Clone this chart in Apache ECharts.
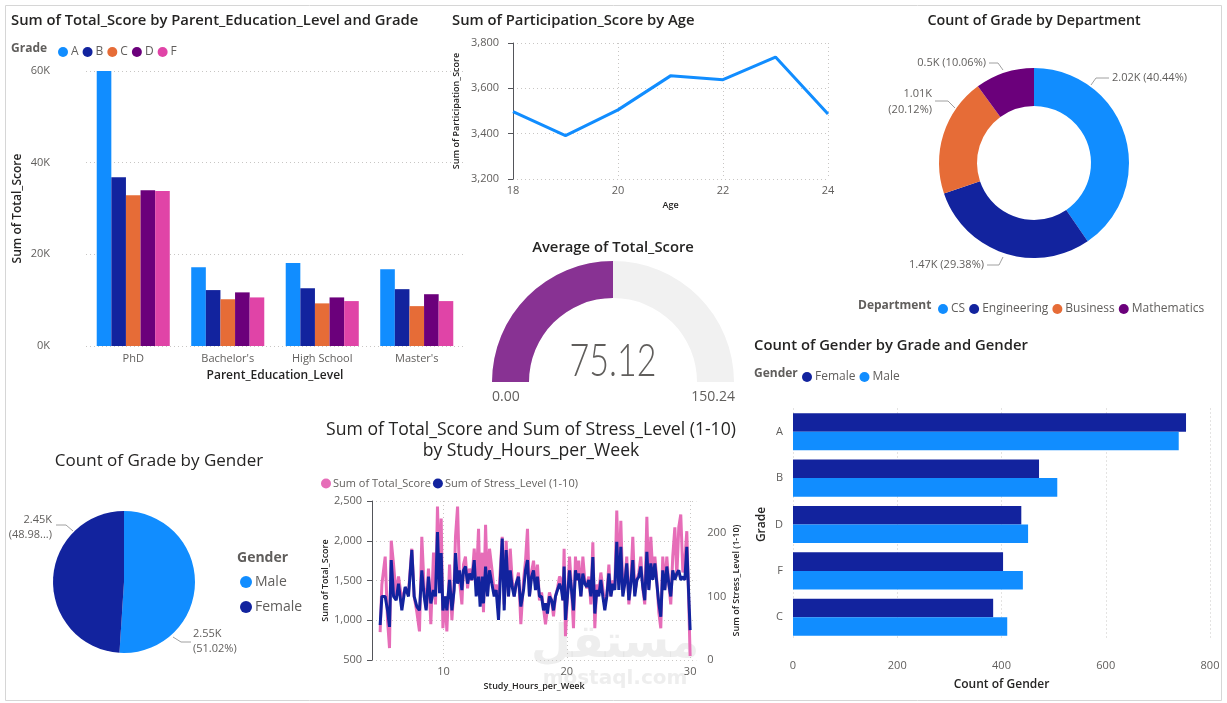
<!DOCTYPE html>
<html>
<head>
<meta charset="utf-8">
<script src="https://cdn.jsdelivr.net/npm/echarts@6/dist/echarts.min.js"></script>
<style>
html,body{margin:0;padding:0;background:#fff;}
#main{width:1227px;height:703px;}
</style>
</head>
<body>
<div id="main"></div>
<script>
// ---------- DATA ----------
const eduLevels = ["PhD", "Bachelor's", "High School", "Master's"];
const gradeNames = ["A", "B", "C", "D", "F"];
const scoreA = [60000, 17200, 18100, 16750];
const scoreB = [36800, 12200, 12600, 12400];
const scoreC = [32900, 10200, 9300, 8700];
const scoreD = [34000, 11700, 10600, 11300];
const scoreF = [33800, 10600, 9800, 9800];

const ages = [18, 19, 20, 21, 22, 23, 24];
const participation = [3497, 3391, 3505, 3655, 3638, 3738, 3487];

const departments = ["CS", "Engineering", "Business", "Mathematics"];
const deptCounts = [2022, 1469, 1006, 503];

const avgTotalScore = 75.12;
const gaugeMin = 0;
const gaugeMax = 150.24;

const genders = ["Male", "Female"];
const genderCounts = [2551, 2449];

const barGrades = ["A", "B", "D", "F", "C"];
const femaleCounts = [754, 472, 438, 403, 384];
const maleCounts = [740, 507, 451, 441, 411];

const studyHours = [
 4.86,5.00,5.27,5.46,5.62,5.76,5.95,6.16,6.35,6.62,
 6.89,7.16,7.43,7.62,7.84,8.05,8.24,8.43,8.59,8.78,
 8.97,9.19,9.35,9.51,9.68,9.81,9.95,10.14,10.27,10.49,
 10.68,10.86,10.97,11.14,11.30,11.49,11.62,11.78,11.95,12.11,
 12.30,12.49,12.65,12.84,12.97,13.14,13.24,13.41,13.57,13.73,
 13.92,14.11,14.27,14.46,14.59,14.76,14.92,15.08,15.27,15.41,
 15.57,15.73,15.89,16.08,16.27,16.49,16.65,16.81,16.97,17.14,
 17.30,17.46,17.62,17.78,17.95,18.11,18.27,18.43,18.59,18.76,
 18.92,19.08,19.24,19.41,19.57,19.68,19.78,19.89,20.05,20.22,
 20.38,20.54,20.70,20.81,20.97,21.14,21.30,21.46,21.62,21.78,
 21.95,22.11,22.27,22.43,22.59,22.76,22.92,23.08,23.24,23.41,
 23.57,23.73,23.89,24.05,24.22,24.38,24.54,24.70,24.86,25.03,
 25.19,25.35,25.51,25.68,25.84,26.00,26.16,26.32,26.49,26.65,
 26.81,26.97,27.14,27.30,27.46,27.62,27.78,27.95,28.11,28.27,
 28.43,28.59,28.76,28.92,29.08,29.24,29.41,29.57,29.73,29.89,
 30.00
];
const totalScoreByHours = [
 850,1450,1800,1000,650,2000,1700,1300,1550,1250,
 1400,1350,1900,1300,1100,860,2050,1400,1150,1650,
 950,1850,1200,2430,1500,2280,900,1300,860,1700,
 1000,1450,2050,2430,1500,1200,1700,1800,1400,1650,
 1500,1900,1450,2150,1300,1850,1100,2200,1350,1900,
 1650,1350,1450,1250,1600,2050,1200,2000,1300,1900,
 1500,1300,1450,1600,950,1500,1750,2150,1300,1600,
 1750,1450,1700,1250,1350,1150,950,950,1350,1250,
 1050,1300,1400,1550,1500,1250,1900,800,1300,1800,
 1400,900,1800,1500,1750,1300,1800,1500,1400,1550,
 1200,1980,900,1450,1350,1600,1400,1200,1300,1700,
 1300,1500,1400,2380,1450,2250,1350,1500,1800,1200,
 1500,2050,1350,1500,1600,1800,1400,1200,2300,1400,
 2050,1600,1800,1500,1100,900,1800,1400,1800,1450,
 1200,1800,2170,1550,2170,2330,1600,1750,2120,1200,
 550
];
const stressByHours = [
 55,100,100,78,52,157,100,94,120,78,
 115,100,173,100,84,78,141,100,78,131,
 89,110,100,201,105,168,78,100,78,126,
 78,110,168,120,141,110,141,147,120,136,
 126,157,100,131,84,131,89,147,100,141,
 120,100,110,63,120,191,78,173,100,141,
 115,100,120,131,84,110,141,157,100,131,
 141,110,131,100,100,78,89,73,100,94,
 78,100,110,120,110,94,147,63,100,141,
 110,78,141,126,136,100,136,120,115,126,
 100,162,73,110,100,126,100,78,100,136,
 100,120,110,186,110,178,100,120,152,94,
 120,157,100,126,131,147,115,94,170,110,
 152,126,152,120,89,68,141,110,147,120,
 100,141,126,136,141,126,131,126,178,100,
 47
];

// ---------- STYLE ----------
const FONT = "'Open Sans', 'Noto Sans', sans-serif";
const C_A = '#118DFF', C_B = '#12239E', C_C = '#E66C37', C_D = '#6B007B', C_F = '#E044A7';
const LABEL = '#605E5C', DARK = '#252423', GRID = '#C8C6C4';
const dotted = {show: true, lineStyle: {color: GRID, type: [1, 3], width: 1}};
const axisLbl = (extra) => Object.assign({color: LABEL, fontSize: 11, fontFamily: FONT}, extra || {});
const nameStyle = (size) => ({color: DARK, fontSize: size || 12, fontFamily: FONT, fontWeight: 600});

const fmtK = v => {
  let s = (v / 1000).toFixed(2);
  s = s.replace(/0+$/, '').replace(/\.$/, '');
  return s + 'K';
};
const fmtComma = v => v.toLocaleString('en-US');

const chart = echarts.init(document.getElementById('main'), null, {renderer: 'canvas'});

function txt(text, x, y, size, opts) {
  return Object.assign({
    type: 'text', x: x, y: y, silent: true,
    style: Object.assign({text: text, fill: DARK, font: `600 ${size}px ${FONT}`, textAlign: 'left', textVerticalAlign: 'middle'}, (opts && opts.style) || {})
  }, (opts && opts.el) || {});
}

// label placement (Power BI style leader lines)
const deptLabelPos = [
  {x: 1112, y: 78, align: 'left', labelLinePoints: [[1091, 85], [1096, 78], [1109, 78]]},
  {x: 984, y: 265, align: 'right', labelLinePoints: [[1003, 257], [999, 265], [987, 265]]},
  {x: 932, y: 102, align: 'right', labelLinePoints: [[955, 108], [948, 101], [935, 101]]},
  {x: 986, y: 63, align: 'right', labelLinePoints: [[1003, 70], [998, 63], [989, 63]]}
];
const genderLabelPos = [
  {x: 193, y: 641, align: 'left', labelLinePoints: [[173, 637], [181, 642], [191, 642]]},
  {x: 52, y: 527, align: 'right', labelLinePoints: [[73, 531], [66, 525], [56, 525]]}
];

const option = {
  animation: false,
  textStyle: {fontFamily: FONT},
  graphic: [
    {type: 'rect', shape: {x: 5.5, y: 5.5, width: 1216, height: 695}, style: {fill: 'none', stroke: '#D6D6D6', lineWidth: 1}, silent: true, z: -10},
    {type: 'text', x: 615, y: 645, silent: true, z: -5, style: {text: 'مستقل', font: `bold 46px 'DejaVu Sans', sans-serif`, fill: 'rgba(200,200,200,0.3)', textAlign: 'center', textVerticalAlign: 'middle'}},
    {type: 'text', x: 615, y: 679, silent: true, z: -5, style: {text: 'mostaql.com', font: `bold 20px 'DejaVu Sans', sans-serif`, fill: 'rgba(200,200,200,0.3)', textAlign: 'center', textVerticalAlign: 'middle'}},
    txt('Sum of Total_Score by Parent_Education_Level and Grade', 11, 21, 14.8),
    txt('Grade', 11, 49, 12, {style: {fill: LABEL, font: `bold 12px ${FONT}`}}),
    txt('Sum of Participation_Score by Age', 452, 21, 14.8),
    txt('Count of Grade by Department', 1034, 21, 14.3, {style: {textAlign: 'center'}}),
    txt('Department', 858, 306, 12, {style: {fill: LABEL, font: `bold 12px ${FONT}`}}),
    txt('Average of Total_Score', 613, 248, 14.8, {style: {textAlign: 'center'}}),
    txt(gaugeMin.toFixed(2), 492, 397, 14, {style: {fill: LABEL, font: `14px ${FONT}`}}),
    txt(gaugeMax.toFixed(2), 735, 397, 14, {style: {fill: LABEL, font: `14px ${FONT}`, textAlign: 'right'}}),
    {type: 'text', x: 613, y: 361, silent: true, scaleX: 0.74,
      style: {text: avgTotalScore.toFixed(2), font: `300 46px 'Lato', sans-serif`, fill: LABEL, textAlign: 'center', textVerticalAlign: 'middle'}},
    txt('Count of Gender by Grade and Gender', 754, 346, 14.8),
    txt('Gender', 754, 374, 12, {style: {fill: LABEL, font: `bold 12px ${FONT}`}}),
    txt('Count of Grade by Gender', 159, 461, 17, {style: {textAlign: 'center', font: `500 17px ${FONT}`}}),
    txt('Gender', 237, 558, 14, {style: {fill: LABEL, font: `bold 14px ${FONT}`}}),
    txt('Sum of Total_Score and Sum of Stress_Level (1-10)', 531, 430, 17.6, {style: {textAlign: 'center', font: `500 17.6px ${FONT}`}}),
    txt('by Study_Hours_per_Week', 531, 451, 17.6, {style: {textAlign: 'center', font: `500 17.6px ${FONT}`}})
  ],
  legend: [
    {data: gradeNames, left: 53, top: 41, icon: 'circle', itemWidth: 10, itemHeight: 10, itemGap: 4,
      textStyle: {color: LABEL, fontSize: 12, fontFamily: FONT, padding: [0, 0, 0, -2]}},
    {data: departments, left: 933, top: 298, icon: 'circle', itemWidth: 10, itemHeight: 10, itemGap: 4,
      textStyle: {color: LABEL, fontSize: 12, fontFamily: FONT, padding: [0, 0, 0, -2]}},
    {data: ['Female', 'Male'], left: 797, top: 366, icon: 'circle', itemWidth: 10, itemHeight: 10, itemGap: 4,
      textStyle: {color: LABEL, fontSize: 12, fontFamily: FONT, padding: [0, 0, 0, -2]}},
    {data: genders, orient: 'vertical', left: 235, top: 570, icon: 'circle', itemWidth: 12, itemHeight: 12, itemGap: 11,
      textStyle: {color: LABEL, fontSize: 14, fontFamily: FONT, padding: [0, 0, 0, -2]}},
    {data: ['Sum of Total_Score', 'Sum of Stress_Level (1-10)'], left: 316, top: 473, icon: 'circle', itemWidth: 10, itemHeight: 10, itemGap: 2,
      textStyle: {color: LABEL, fontSize: 11, fontFamily: FONT, padding: [0, 0, 0, -3]}}
  ],
  grid: [
    {left: 86, top: 71, width: 378, height: 275},
    {left: 513, top: 43, width: 315, height: 136},
    {left: 793, top: 408.5, width: 417, height: 232},
    {left: 372, top: 501, width: 324.3, height: 159}
  ],
  xAxis: [
    {gridIndex: 0, type: 'category', data: eduLevels, axisLine: {show: false}, axisTick: {show: false},
      axisLabel: axisLbl({margin: 7}), name: 'Parent_Education_Level', nameLocation: 'middle', nameGap: 24, nameTextStyle: nameStyle(12)},
    {gridIndex: 1, type: 'value', min: 18, max: 24, interval: 2, axisLine: {show: false}, axisTick: {show: false},
      splitLine: dotted, axisLabel: axisLbl({margin: 6}), name: 'Age', nameLocation: 'middle', nameGap: 22, nameTextStyle: nameStyle(9)},
    {gridIndex: 2, type: 'value', min: 0, max: 800, interval: 200, axisLine: {show: false}, axisTick: {show: false},
      splitLine: dotted, axisLabel: axisLbl({margin: 20}), name: 'Count of Gender', nameLocation: 'middle', nameGap: 38, nameTextStyle: nameStyle(12)},
    {gridIndex: 3, type: 'value', min: 4.2, max: 30.5, axisLine: {show: false},
      axisTick: {show: false, customValues: [10, 20, 30]}, splitLine: dotted,
      axisLabel: axisLbl({margin: 6, customValues: [10, 20, 30]}), name: 'Study_Hours_per_Week', nameLocation: 'middle', nameGap: 22, nameTextStyle: nameStyle(9)}
  ],
  yAxis: [
    {gridIndex: 0, type: 'value', min: 0, max: 60000, interval: 20000, splitLine: dotted,
      axisLabel: axisLbl({margin: 36, formatter: v => (v / 1000) + 'K'}), name: 'Sum of Total_Score', nameLocation: 'middle', nameGap: 62, nameTextStyle: nameStyle(12)},
    {gridIndex: 1, type: 'value', min: 3200, max: 3800, interval: 200, splitLine: dotted,
      axisLabel: axisLbl({margin: 14, formatter: fmtComma}), name: 'Sum of Participation_Score', nameLocation: 'middle', nameGap: 52, nameTextStyle: nameStyle(9)},
    {gridIndex: 2, type: 'category', data: barGrades, inverse: true, axisLine: {show: false}, axisTick: {show: false},
      axisLabel: axisLbl({margin: 10}), name: 'Grade', nameLocation: 'middle', nameGap: 25, nameTextStyle: nameStyle(12)},
    {gridIndex: 3, type: 'value', min: 500, max: 2500, interval: 500, splitLine: dotted,
      axisLabel: axisLbl({margin: 10, formatter: fmtComma}), name: 'Sum of Total_Score', nameLocation: 'middle', nameGap: 42, nameTextStyle: nameStyle(9)},
    {gridIndex: 3, type: 'value', position: 'right', min: 0, max: 250, splitLine: {show: false}, axisLine: {show: false}, axisTick: {show: false},
      axisLabel: axisLbl({margin: 11, customValues: [0, 100, 200]}), name: 'Sum of Stress_Level (1-10)', nameLocation: 'middle', nameGap: 36, nameTextStyle: nameStyle(9)}
  ],
  series: [
    ...[['A', scoreA, C_A], ['B', scoreB, C_B], ['C', scoreC, C_C], ['D', scoreD, C_D], ['F', scoreF, C_F]].map(([n, d, c]) => ({
      name: n, type: 'bar', xAxisIndex: 0, yAxisIndex: 0, data: d, itemStyle: {color: c},
      barGap: '0%', barCategoryGap: '22.7%'
    })),
    {name: 'Participation', type: 'line', xAxisIndex: 1, yAxisIndex: 1,
      data: ages.map((a, i) => [a, participation[i]]), showSymbol: false, lineStyle: {color: C_A, width: 3}, itemStyle: {color: C_A}},
    {name: 'Department', type: 'pie', center: [1034, 163], radius: [57, 95], startAngle: 90, clockwise: true,
      percentPrecision: 2,
      data: departments.map((d, i) => ({name: d, value: deptCounts[i], itemStyle: {color: [C_A, C_B, C_C, C_D][i]}})),
      label: {color: LABEL, fontSize: 11, fontFamily: FONT, edgeDistance: 2, overflow: 'none', lineHeight: 16,
        formatter: p => p.name === 'Business' ? fmtK(p.value) + '\n(' + p.percent.toFixed(2) + '%)' : fmtK(p.value) + ' (' + p.percent.toFixed(2) + '%)'},
      labelLine: {length: 8, length2: 10, lineStyle: {color: '#A0A0A0'}},
      labelLayout: p => Object.assign({verticalAlign: 'middle'}, deptLabelPos[p.dataIndex]),
      emphasis: {disabled: true}},
    {name: 'Avg', type: 'gauge', center: [613, 382], radius: 121, startAngle: 180, endAngle: 0,
      min: gaugeMin, max: gaugeMax,
      progress: {show: true, width: 37, itemStyle: {color: '#883293'}},
      axisLine: {lineStyle: {width: 37, color: [[1, '#F1F1F1']]}},
      pointer: {show: false}, axisTick: {show: false}, splitLine: {show: false}, axisLabel: {show: false}, anchor: {show: false},
      title: {show: false}, detail: {show: false},
      data: [{value: avgTotalScore}]},
    {name: 'Gender', type: 'pie', center: [124, 582], radius: 71, startAngle: 90, clockwise: true,
      percentPrecision: 2,
      data: genders.map((g, i) => ({name: g, value: genderCounts[i], itemStyle: {color: [C_A, C_B][i]}})),
      label: {color: LABEL, fontSize: 11, fontFamily: FONT, lineHeight: 15, edgeDistance: 2, overflow: 'none',
        formatter: p => p.name === 'Female' ? fmtK(p.value) + '\n(' + p.percent.toFixed(2).slice(0, 5) + '...)' : fmtK(p.value) + '\n(' + p.percent.toFixed(2) + '%)'},
      labelLine: {length: 8, length2: 14, lineStyle: {color: '#A0A0A0'}},
      labelLayout: p => Object.assign({verticalAlign: 'middle'}, genderLabelPos[p.dataIndex]),
      emphasis: {disabled: true}},
    {name: 'Female', type: 'bar', xAxisIndex: 2, yAxisIndex: 2, data: femaleCounts, itemStyle: {color: C_B}, barGap: '0%', barCategoryGap: '20%'},
    {name: 'Male', type: 'bar', xAxisIndex: 2, yAxisIndex: 2, data: maleCounts, itemStyle: {color: C_A}, barGap: '0%', barCategoryGap: '20%'},
    {name: 'Sum of Total_Score', type: 'line', xAxisIndex: 3, yAxisIndex: 3,
      data: studyHours.map((h, i) => [h, totalScoreByHours[i]]), showSymbol: false,
      lineStyle: {color: '#E66DB8', width: 3}, itemStyle: {color: '#E66DB8'}},
    {name: 'Sum of Stress_Level (1-10)', type: 'line', xAxisIndex: 3, yAxisIndex: 4,
      data: studyHours.map((h, i) => [h, stressByHours[i]]), showSymbol: false,
      lineStyle: {color: C_B, width: 3}, itemStyle: {color: C_B}}
  ]
};
chart.setOption(option);
</script>
</body>
</html>
